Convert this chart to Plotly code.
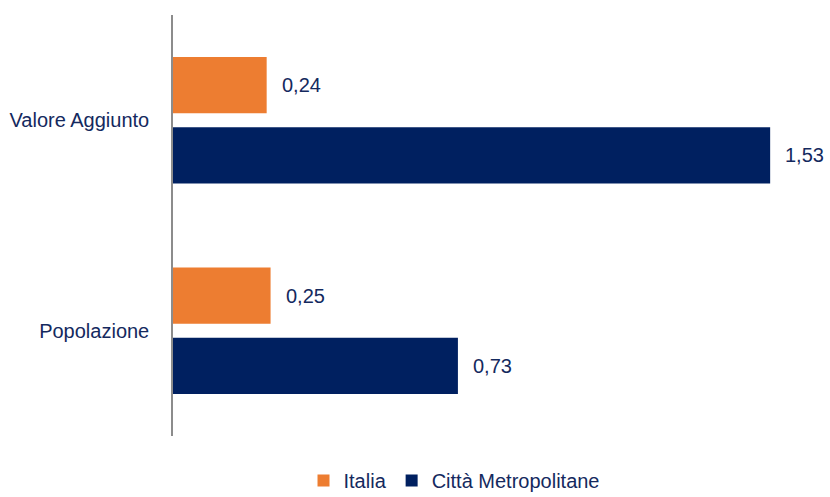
import plotly.graph_objects as go

categories = ["Valore Aggiunto", "Popolazione"]
italia = [0.24, 0.25]
citta = [1.53, 0.73]
series_names = ["Italia", "Città Metropolitane"]
colors = ["#ED7D31", "#002060"]
text_color = "#14295E"
font_family = "Liberation Sans, Arial, sans-serif"
fs = 20

fig = go.Figure()
for name, vals, col in zip(series_names, [italia, citta], colors):
    fig.add_trace(go.Bar(
        y=categories, x=vals, name=name, orientation="h",
        marker=dict(color=col, line=dict(width=0)),
        hoverinfo="skip",
    ))

# value labels
offsets = [-35, 35]
for vals, off in zip([italia, citta], offsets):
    for cat, v in zip(categories, vals):
        fig.add_annotation(
            x=v, y=cat, xref="x", yref="y",
            text=f"{v:.2f}".replace(".", ","),
            showarrow=False, xanchor="left", yanchor="middle",
            xshift=13, yshift=-off,
            font=dict(family=font_family, size=fs, color=text_color),
        )

fig.update_layout(
    width=830, height=497,
    margin=dict(l=173, r=13, t=15, b=61, autoexpand=False),
    paper_bgcolor="white", plot_bgcolor="white",
    barmode="group", bargap=0.333, bargroupgap=0.2,
    font=dict(family=font_family, size=fs, color=text_color),
    showlegend=True,
    legend=dict(
        orientation="h", xref="container", yref="container",
        x=0.547, xanchor="center", y=0.033, yanchor="middle",
        font=dict(family=font_family, size=fs, color=text_color),
        itemwidth=30, traceorder="normal",
    ),
    xaxis=dict(range=[0, 1.65], showgrid=False, zeroline=False,
               showticklabels=False, showline=False, ticks="", automargin=False),
    yaxis=dict(autorange="reversed", showgrid=False, zeroline=False,
               showline=True, linecolor="#8C8C8C", linewidth=1.5,
               ticks="", ticklabelstandoff=18, automargin=False,
               tickfont=dict(family=font_family, size=fs, color=text_color)),
)

fig.write_html("out.html")
